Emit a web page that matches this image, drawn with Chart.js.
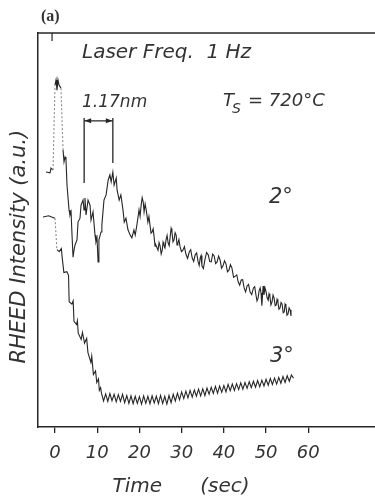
<!DOCTYPE html>
<html lang="en">
<head>
    <meta charset="UTF-8">
    <title>RHEED Intensity</title>
    <script src="https://cdn.jsdelivr.net/npm/chart.js"></script>
    <style>
        body { margin: 0; background: #fff; }
        canvas { display: block; }
    </style>
</head>
<body>
    <canvas id="rheedChart" width="375" height="501"></canvas>
    <script>
        // time axis (sec)
        const xMin = -4.03;
        const xMax = 75.8;
        const xTicks = [0, 10, 20, 30, 40, 50, 60];

        // 2 degree trace
        const t2 = [-2.13, -1.18, -0.95, -0.47, 0, 0.24, 0.47, 0.71, 0.95, 1.42, 1.66, 1.9, 2.13, 2.37, 2.6, 2.84, 3.32, 3.55, 3.8, 4.03,
            4.27, 4.5, 4.74, 5.21, 5.45, 5.92, 6.16, 6.64, 6.87, 7.1, 7.35, 7.82, 8.3, 8.53, 9.0, 9.48, 9.7, 9.95, 10.2, 10.4,
            10.9, 11.1, 11.6, 12.1, 12.6, 13.0, 13.3, 13.7, 14.0, 14.5, 14.7, 15.2, 15.6, 16.1, 16.4, 16.8, 17.3, 17.8, 18.2, 18.7,
            19.0, 19.4, 19.9, 20.15, 20.4, 20.65, 20.9, 21.1, 21.35, 21.6, 22.0, 22.25, 22.5, 22.75, 23.0, 23.25, 23.5, 23.7, 23.9, 24.4,
            24.65, 24.9, 25.15, 25.4, 25.6, 25.8, 26.05, 26.3, 26.55, 26.8, 27.05, 27.3, 27.5, 27.7, 27.95, 28.2, 28.45, 28.7, 28.9, 29.1,
            29.35, 29.6, 29.95, 30.3, 30.65, 31.0, 31.4, 31.8, 32.15, 32.5, 32.85, 33.2, 33.55, 33.9, 34.15, 34.4, 34.6, 34.8, 35.15, 35.5,
            35.9, 36.3, 36.65, 37.0, 37.35, 37.7, 38.05, 38.4, 38.75, 39.1, 39.45, 39.8, 40.15, 40.5, 40.85, 41.2, 41.55, 41.9, 42.3, 42.7,
            43.05, 43.4, 43.75, 44.1, 44.45, 44.8, 45.15, 45.5, 45.85, 46.2, 46.6, 47.0, 47.3, 47.6, 47.85, 48.1, 48.35, 48.6, 48.8, 49.0,
            49.3, 49.5, 49.75, 50.0, 50.25, 50.5, 50.7, 50.9, 51.15, 51.4, 51.65, 51.9, 52.15, 52.4, 52.6, 52.8, 53.05, 53.3, 53.55, 53.8,
            54.05, 54.3, 54.5, 54.7, 54.95, 55.2, 55.45, 55.7, 55.9];
        const y2 = [64.7, 64.5, 65.7, 65.2, 86.8, 88.1, 85.5, 88.1, 86.8, 86.0, 77.9, 70.3, 67.3, 68.5, 67.8, 61.4, 55.1, 53.8, 54.6, 48.7,
            43.1, 44.9, 46.2, 47.5, 52.0, 53.0, 56.3, 57.6, 55.1, 58.1, 53.8, 57.6, 56.3, 52.5, 54.6, 48.7, 47.0, 48.0, 41.9, 47.5,
            49.5, 51.3, 57.6, 58.9, 62.7, 64.0, 62.2, 64.7, 61.4, 63.2, 60.2, 57.6, 58.9, 55.1, 52.0, 53.0, 50.0, 48.7, 48.0, 50.0,
            48.7, 51.3, 55.1, 53.5, 56.3, 58.2, 57.1, 54.6, 56.6, 55.1, 52.0, 53.4, 51.3, 49.2, 49.5, 50.3, 48.0, 45.9, 46.2, 44.9,
            46.8, 45.9, 43.9, 44.9, 46.9, 46.2, 45.5, 47.5, 48.6, 46.7, 46.0, 48.5, 50.4, 49.5, 47.0, 47.5, 49.3, 48.7, 46.2, 46.7,
            47.6, 45.9, 44.5, 44.9, 45.8, 43.9, 42.8, 44.4, 45.0, 42.9, 42.0, 43.7, 44.2, 41.9, 41.0, 42.9, 43.5, 40.9, 40.2, 42.4,
            44.3, 43.7, 42.0, 41.9, 43.9, 43.4, 41.5, 41.9, 43.4, 42.4, 40.3, 40.9, 42.2, 41.4, 39.4, 39.8, 41.2, 40.4, 38.0, 38.3,
            38.6, 36.8, 36.0, 37.3, 37.4, 35.3, 34.3, 35.8, 36.2, 34.3, 33.6, 35.3, 35.6, 33.5, 32.0, 32.7, 34.6, 35.3, 34.0, 30.8,
            35.8, 33.5, 35.3, 34.3, 32.8, 32.2, 33.8, 33.2, 31.0, 31.7, 33.5, 32.7, 30.8, 31.0, 32.4, 31.7, 29.9, 30.2, 31.6, 31.2,
            29.0, 29.2, 31.2, 30.7, 28.4, 28.7, 30.2, 29.7, 28.2];

        // 3 degree trace
        const t3 = [-2.84, -1.5, -0.5, 0, 0.45, 1.0, 1.5, 1.7, 2.1, 2.8, 3.2, 3.35, 4.0, 4.3, 4.5, 5.1, 5.3, 5.5, 6.2, 6.5,
            7.0, 7.5, 7.8, 8.5, 8.7, 9.1, 9.6, 9.9, 10.3, 10.5, 10.8,
            11, 11.5, 12, 12.5, 13, 13.5, 14, 14.5, 15, 15.5, 16, 16.5, 17, 17.5, 18, 18.5, 19, 19.5, 20, 20.5,
            21, 21.5, 22, 22.5, 23, 23.5, 24, 24.5, 25, 25.5, 26, 26.5, 27, 27.5, 28, 28.5, 29, 29.5, 30, 30.5,
            31, 31.5, 32, 32.5, 33, 33.5, 34, 34.5, 35, 35.5, 36, 36.5, 37, 37.5, 38, 38.5, 39, 39.5, 40, 40.5,
            41, 41.5, 42, 42.5, 43, 43.5, 44, 44.5, 45, 45.5, 46, 46.5, 47, 47.5, 48, 48.5, 49, 49.5, 50, 50.5,
            51, 51.5, 52, 52.5, 53, 53.5, 54, 54.5, 55, 55.5, 56, 56.5];
        const y3 = [53.3, 53.6, 53.2, 53.0, 45.0, 44.5, 45.3, 43.0, 39.2, 39.4, 38.5, 31.8, 31.2, 32.0, 26.8, 26.0, 27.0, 23.8, 22.2, 24.0,
            21.3, 22.5, 18.9, 16.4, 18.0, 13.3, 14.2, 11.3, 12.2, 9.3, 10.0,
            8.6, 6.6, 8.4, 6.5, 8.5, 6.7, 8.3, 6.4, 8.2, 6.5, 8.3, 6.2, 8.0, 6.0, 7.9, 5.9, 7.8, 6.0, 7.7, 5.8,
            7.9, 6.0, 7.8, 5.9, 7.9, 6.1, 7.8, 5.9, 8.0, 6.0, 7.8, 5.8, 8.0, 6.2, 8.3, 6.6, 8.6, 6.9, 8.9, 7.2,
            9.1, 7.4, 9.3, 7.6, 9.4, 7.8, 9.6, 7.9, 9.7, 8.0, 9.9, 8.3, 10.1, 8.5, 10.3, 8.6, 10.4, 8.8, 10.5, 8.9,
            10.8, 9.2, 10.9, 9.3, 11.0, 9.5, 11.2, 9.6, 11.3, 9.8, 11.5, 10.0, 11.6, 10.1, 11.8, 10.2, 11.9, 10.4, 12.1, 10.6,
            12.3, 10.8, 12.4, 10.9, 12.6, 11.1, 12.8, 11.3, 13.0, 11.6, 13.2, 12.4];

        // 1.17 nm marker (one oscillation period)
        const bracketX = [6.9, 6.9, 6.9, 13.7, 13.7, 13.7, 6.9, 13.7];
        const bracketY = [61.9, 78.4, null, 67.0, 78.4, null, 77.7, 77.7];
        const markT = -0.7;

        const toPoints = (xs, ys) => xs.map((x, i) => ({ x: x, y: ys[i] }));

        const ink = '#262626';
        const textColor = '#333';
        const italic = (size) => ({ family: 'DejaVu Sans', style: 'italic', size: size });

        // steep parts of the traces are faint/dotted in the original
        const steepDash = ctx => Math.abs(ctx.p1.parsed.y - ctx.p0.parsed.y) > 7 ? [2, 2] : undefined;
        const steepColor = ctx => Math.abs(ctx.p1.parsed.y - ctx.p0.parsed.y) > 7 ? '#8a8a8a' : undefined;

        const decor = {
            id: 'decor',
            afterDraw(chart) {
                const { ctx, chartArea, scales } = chart;
                const xs = scales.x, ys = scales.y;
                ctx.save();
                // top frame line
                ctx.strokeStyle = ink;
                ctx.lineWidth = 1.5;
                ctx.beginPath();
                ctx.moveTo(chartArea.left, chartArea.top);
                ctx.lineTo(chartArea.right, chartArea.top);
                ctx.stroke();
                // small tick at top
                const mx = xs.getPixelForValue(markT);
                ctx.lineWidth = 1.2;
                ctx.beginPath();
                ctx.moveTo(mx, chartArea.top);
                ctx.lineTo(mx, chartArea.top + 8);
                ctx.stroke();
                // arrowheads on the bracket
                const ay = ys.getPixelForValue(bracketY[6]);
                const a1 = xs.getPixelForValue(bracketX[6]);
                const a2 = xs.getPixelForValue(bracketX[7]);
                ctx.fillStyle = ink;
                ctx.beginPath();
                ctx.moveTo(a1 + 0.5, ay); ctx.lineTo(a1 + 7, ay - 2.5); ctx.lineTo(a1 + 7, ay + 2.5); ctx.closePath();
                ctx.moveTo(a2 - 0.5, ay); ctx.lineTo(a2 - 7, ay - 2.5); ctx.lineTo(a2 - 7, ay + 2.5); ctx.closePath();
                ctx.fill();

                // texts
                ctx.fillStyle = textColor;
                ctx.textBaseline = 'middle';
                ctx.textAlign = 'left';
                ctx.font = 'bold 16px "Liberation Serif"';
                ctx.fillText('(a)', 41, 17);
                ctx.font = 'italic 20px "DejaVu Sans"';
                ctx.fillText('Laser Freq.  1 Hz', 82, 53);
                ctx.font = 'italic 17px "DejaVu Sans"';
                ctx.fillText('1.17nm', 82, 103);
                ctx.font = 'italic 18px "DejaVu Sans"';
                ctx.fillText('T', 223, 101);
                ctx.font = 'italic 14px "DejaVu Sans"';
                ctx.fillText('S', 232, 109);
                ctx.font = 'italic 18px "DejaVu Sans"';
                ctx.fillText('= 720°C', 248, 101);
                ctx.font = 'italic 21px "DejaVu Sans"';
                ctx.fillText('2°', 269, 198);
                ctx.fillText('3°', 270, 357);
                ctx.restore();
            }
        };

        new Chart(document.getElementById('rheedChart'), {
            type: 'line',
            data: {
                datasets: [
                    {
                        label: '2°',
                        data: toPoints(t2, y2),
                        borderColor: ink,
                        borderWidth: 1.1,
                        pointRadius: 0,
                        tension: 0,
                        segment: { borderDash: steepDash, borderColor: steepColor }
                    },
                    {
                        label: '3°',
                        data: toPoints(t3, y3),
                        borderColor: ink,
                        borderWidth: 1.1,
                        pointRadius: 0,
                        tension: 0,
                        segment: { borderDash: steepDash, borderColor: steepColor }
                    },
                    {
                        label: '1.17 nm',
                        data: toPoints(bracketX, bracketY),
                        borderColor: ink,
                        borderWidth: 1.3,
                        pointRadius: 0,
                        spanGaps: false
                    }
                ]
            },
            options: {
                responsive: false,
                animation: false,
                layout: { padding: { top: 33, left: 0, right: 0, bottom: 0 } },
                plugins: {
                    legend: { display: false },
                    tooltip: { enabled: false }
                },
                scales: {
                    x: {
                        type: 'linear',
                        min: xMin,
                        max: xMax,
                        afterBuildTicks: s => { s.ticks = xTicks.map(v => ({ value: v })); },
                        afterFit: s => { s.height = 74; },
                        grid: { display: true, drawOnChartArea: false, drawTicks: true, tickLength: 6, color: ink, lineWidth: 1.3 },
                        border: { display: true, color: ink, width: 1.5 },
                        ticks: { color: textColor, font: italic(18), padding: 10, maxRotation: 0, autoSkip: false },
                        title: {
                            display: true,
                            text: 'Time      (sec)        ',
                            color: textColor,
                            font: italic(20),
                            padding: { top: 0, bottom: 2 }
                        }
                    },
                    y: {
                        min: 0,
                        max: 100,
                        afterFit: s => { s.width = 38; },
                        grid: { display: false },
                        ticks: { display: false },
                        border: { display: true, color: ink, width: 1.5 },
                        title: {
                            display: true,
                            text: 'RHEED Intensity (a.u.)     ',
                            color: textColor,
                            font: italic(21),
                            padding: { top: 7, bottom: 0 }
                        }
                    }
                }
            },
            plugins: [decor]
        });
    </script>
</body>
</html>
